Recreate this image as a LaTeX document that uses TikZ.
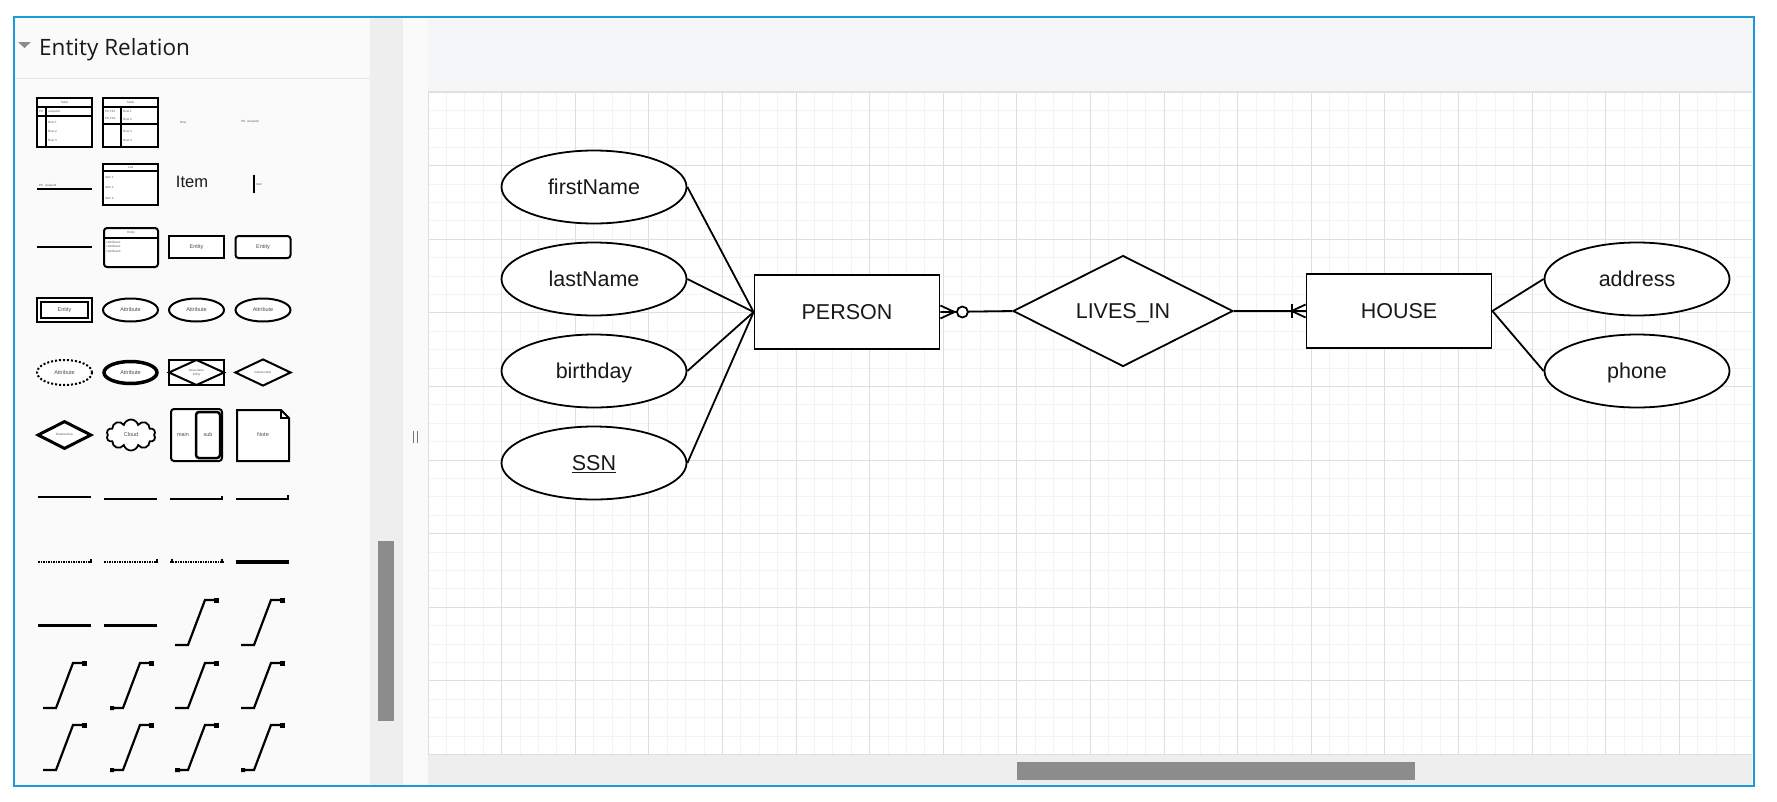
\documentclass[tikz,border=0pt]{standalone}
\usepackage{fontspec}
\setmainfont{Liberation Sans}
\newfontfamily\uifont{Open Sans}
\usetikzlibrary{shapes.geometric,shapes.symbols,arrows.meta}
\definecolor{frameblue}{RGB}{27,154,216}
\definecolor{panelgrey}{RGB}{250,250,250}
\definecolor{trackgrey}{RGB}{238,238,238}
\definecolor{thumbgrey}{RGB}{140,140,140}
\definecolor{gridminor}{RGB}{243,243,243}
\definecolor{gridmajor}{RGB}{222,222,222}
\definecolor{bandgrey}{RGB}{245,246,247}
\begin{document}
\begin{tikzpicture}[x=1pt,y=-1pt,
  attr/.style={draw, ellipse, line width=1.8pt, fill=white, minimum width=185, minimum height=73, inner sep=0pt, text height=15.5pt, text depth=0pt, text=black!90, font=\fontsize{21.5}{24}\selectfont},
  entity/.style={draw, rectangle, line width=1.8pt, fill=white, minimum width=185, minimum height=74, text height=15.5pt, text depth=0pt, text=black!90, font=\fontsize{21.5}{24}\selectfont},
  rel/.style={draw, diamond, aspect=2, line width=1.8pt, fill=white, minimum width=220, minimum height=111, inner sep=0pt, text height=15.5pt, text depth=0pt, text=black!90, font=\fontsize{21.5}{24}\selectfont},
  link/.style={line width=1.8pt},
  ico/.style={draw, line width=2pt, fill=white},
  icotxt/.style={inner sep=0pt, text=black!70, font=\fontsize{5.5}{6}\selectfont},
  tinytxt/.style={inner sep=0pt, text=black!65, font=\fontsize{3}{3.5}\selectfont},
  steplink/.style={line width=2.2pt},
]
\useasboundingbox (0,0) rectangle (1777,801);
\fill[white] (0,0) rectangle (1777,801);

% panels
\fill[panelgrey] (14,17) rectangle (370,786);
\fill[trackgrey] (370,17) rectangle (403,786);
\fill[panelgrey] (403,17) rectangle (428,786);
\fill[bandgrey] (428,17) rectangle (1754,92);

% canvas grid
\begin{scope}
  \clip (428,92) rectangle (1752,755);
  \foreach \i in {0,...,72}
    \draw[gridminor, line width=0.9pt] ({428+18.4*\i},92) -- ({428+18.4*\i},755);
  \foreach \j in {0,...,36}
    \draw[gridminor, line width=0.9pt] (428,{92+18.4*\j}) -- (1752,{92+18.4*\j});
  \foreach \i in {0,...,18}
    \draw[gridmajor, line width=1pt] ({428+73.6*\i},92) -- ({428+73.6*\i},755);
  \foreach \j in {0,...,9}
    \draw[gridmajor, line width=1pt] (428,{92+73.6*\j}) -- (1752,{92+73.6*\j});
\end{scope}
\draw[black!12, line width=1.2pt] (428,92) -- (1752,92);

% scrollbars
\fill[trackgrey] (428,755) rectangle (1752,786);
\fill[thumbgrey] (1017,762) rectangle (1415,780);
\fill[thumbgrey] (378,541) rectangle (394,721);
\draw[black!55, line width=0.9pt] (413,431) -- (413,443) (417,431) -- (417,443);

% palette header
\draw[black!10, line width=1pt] (14,78) -- (370,78);
\fill[black!45] (18,42) -- (31,42) -- (24.5,48) -- cycle;
\node[anchor=base west, inner sep=0pt, text=black!90, font=\uifont\fontsize{22.5}{26}\selectfont] (pal) at (39,55) {Entity Relation};

% palette row 1
\draw[ico] (37,98) rectangle (92,147);
\draw[line width=2pt] (37,107) -- (92,107) (37,116) -- (92,116);
\draw[line width=2.5pt] (46,107) -- (46,147);
\node[tinytxt] at (64.5,102.5) {Table};
\node[tinytxt, anchor=west] at (39,111.5) {PK};
\node[tinytxt, anchor=west] at (48,111.5) {uniqueId};
\node[tinytxt, anchor=west] at (48,122) {Row 1};
\node[tinytxt, anchor=west] at (48,131) {Row 2};
\node[tinytxt, anchor=west] at (48,140) {Row 3};
\draw[ico] (103,98) rectangle (158,147);
\draw[line width=2pt] (103,107) -- (158,107) (103,124) -- (158,124);
\draw[line width=2.5pt] (121,107) -- (121,147);
\node[tinytxt] at (130.5,102.5) {Table};
\node[tinytxt, anchor=west] at (105,111.5) {PK,FK1};
\node[tinytxt, anchor=west] at (105,119) {PK,FK2};
\node[tinytxt, anchor=west] at (123,111.5) {Row 1};
\node[tinytxt, anchor=west] at (123,119) {Row 2};
\node[tinytxt, anchor=west] at (123,131) {Row 3};
\node[tinytxt, anchor=west] at (123,140) {Row 4};
\node[tinytxt] at (183,122) {Row};
\node[tinytxt] at (250,122) {PK\ \ uniqueId};

% palette row 2
\draw[line width=2.5pt] (37,189) -- (92,189);
\node[tinytxt, anchor=south west] at (39,187) {PK\ \ uniqueId};
\draw[ico] (103,164) rectangle (158,205);
\draw[line width=2pt] (103,171) -- (158,171);
\node[tinytxt] at (130.5,167.5) {List};
\node[tinytxt, anchor=west] at (105,177) {Item 1};
\node[tinytxt, anchor=west] at (105,187.5) {Item 2};
\node[tinytxt, anchor=west] at (105,198) {Item 3};
\node[inner sep=0pt, text=black!90, font=\fontsize{16.5}{18}\selectfont] (itm) at (192,182) {Item};
\draw[line width=2pt] (254,175) -- (254,193);
\node[tinytxt, anchor=west] at (256,184) {Item};

% palette row 3
\draw[line width=2.5pt] (37,247) -- (92,247);
\draw[ico, rounded corners=3pt] (104,228) rectangle (158,267);
\draw[line width=2pt] (104,238) -- (158,238);
\node[tinytxt] at (131,233) {Entity};
\node[tinytxt, anchor=west] at (106,242) {+attribute1};
\node[tinytxt, anchor=west] at (106,246.5) {+attribute2};
\node[tinytxt, anchor=west] at (106,251) {+attribute3};
\node[ico, icotxt, minimum width=55, minimum height=22] (ent1) at (196.5,247) {Entity};
\node[ico, icotxt, rounded corners=3pt, minimum width=55, minimum height=22] (ent2) at (263,247) {Entity};

% palette row 4
\node[ico, line width=2.5pt, minimum width=55, minimum height=24] (ent3) at (64.5,310) {};
\node[draw, line width=1.5pt, icotxt, minimum width=47, minimum height=16] (ent3in) at (ent3) {Entity};
\foreach \x/\nm in {130.5/at1, 196.5/at2, 263/at3}
  \node[ico, ellipse, icotxt, minimum width=55, minimum height=23] (\nm) at (\x,310) {Attribute};

% palette row 5
\node[draw, ellipse, dotted, line width=2pt, fill=white, icotxt, minimum width=55, minimum height=25] (at4) at (64.5,372.5) {Attribute};
\node[draw, ellipse, line width=3.5pt, fill=white, icotxt, minimum width=53, minimum height=22] (at5) at (130.5,372.5) {Attribute};
\draw[ico] (169,360) rectangle (224,385);
\draw[line width=2pt] (169,372.5) -- (196.5,360) -- (224,372.5) -- (196.5,385) -- cycle;
\node[tinytxt, align=center] (asc) at (196.5,372.5) {Associative\\Entity};
\node[ico, diamond, aspect=2.1, minimum width=56, minimum height=27, tinytxt] (rel1) at (263,372.5) {Relationship};

% palette row 6
\node[draw, diamond, aspect=2, line width=3pt, fill=white, minimum width=54, minimum height=28, tinytxt] (rel2) at (64.5,435) {Relationship};
\node[draw, cloud, cloud puffs=10, aspect=1.7, line width=1.8pt, fill=white, minimum width=49, minimum height=31, icotxt] (cld) at (131,435) {Cloud};
\draw[ico, rounded corners=3pt] (171,409) rectangle (222,461);
\draw[ico, line width=2.5pt, rounded corners=3pt] (196,412) rectangle (220,458);
\node[icotxt] (mn) at (183,435) {main};
\node[icotxt] (sb) at (208,435) {sub};
\draw[ico] (237,410) -- (281,410) -- (289,418) -- (289,461) -- (237,461) -- cycle;
\draw[line width=1.5pt] (281,410) -- (281,418) -- (289,418);
\node[icotxt] (nt) at (263,435) {Note};

% palette connectors
\draw[line width=1.8pt] (38,497) -- ++(53,0);
\foreach \x in {104,170,236}
  \draw[line width=2.2pt] (\x,499) -- ++(53,0);
\draw[line width=1.4pt] (222,496) -- (222,500) (288,495) -- (288,500);
\foreach \x in {38,104,170}
  \draw[line width=1.6pt, dash pattern=on 1.5pt off 1pt] (\x,562) -- ++(53,0);
\draw[line width=1.4pt] (91,559) -- (91,563) (157,559) -- (157,563) (172,559) -- (172,563) (222,559) -- (222,563);
\draw[line width=3.5pt] (236,562) -- ++(53,0);
\draw[line width=3pt] (38,625) -- ++(53,0) (104,625) -- ++(53,0);
\foreach \xb/\yt/\yb in {175/600/645, 241/600/645,
                         43/663/708, 110/663/708, 175/663/708, 241/663/708,
                         43/725/770, 110/725/770, 175/725/770, 241/725/770}
{
  \draw[steplink] (\xb,\yb) -- ++(13,0) -- ({\xb+30},\yt) -- ++(13,0);
  \fill ({\xb+39},{\yt-2.5}) rectangle ({\xb+44},{\yt+2.5});
}
\fill (110,706) rectangle (114,710) (110,768) rectangle (114,772)
      (175,768) rectangle (180,772) (241,768) rectangle (245,772);

% ER diagram
\node[attr] (fname) at (594,187) {firstName};
\node[attr] (lname) at (594,279) {lastName};
\node[attr] (bday) at (594,371) {birthday};
\node[attr] (ssn) at (594,463) {\underline{SSN}};
\node[entity] (person) at (847,312) {PERSON};
\node[rel] (lives) at (1123,311) {LIVES\_IN};
\node[entity] (house) at (1399,311) {HOUSE};
\node[attr] (addr) at (1637,279) {address};
\node[attr] (phone) at (1637,371) {phone};

\draw[link] (fname.east) -- (person.west);
\draw[link] (lname.east) -- (person.west);
\draw[link] (bday.east) -- (person.west);
\draw[link] (ssn.east) -- (person.west);
\draw[link] (house.east) -- (addr.west);
\draw[link] (house.east) -- (phone.west);

% zero or many at PERSON
\draw[link] (person.east) -- (lives.west);
\draw[link] ([yshift=6.5pt]person.east) -- ([xshift=14pt]person.east) -- ([yshift=-6.5pt]person.east);
\draw[link, fill=white] ([xshift=22pt]person.east) circle (5.5pt);
% one or many at HOUSE
\draw[link] (lives.east) -- (house.west);
\draw[link] ([xshift=-14pt,yshift=7pt]house.west) -- ([xshift=-14pt,yshift=-7pt]house.west);
\draw[link] ([yshift=6.5pt]house.west) -- ([xshift=-14pt]house.west) -- ([yshift=-6.5pt]house.west);

% window frame
\draw[frameblue, line width=2.2pt] (14,17) rectangle (1754,786);
\end{tikzpicture}
\end{document}
